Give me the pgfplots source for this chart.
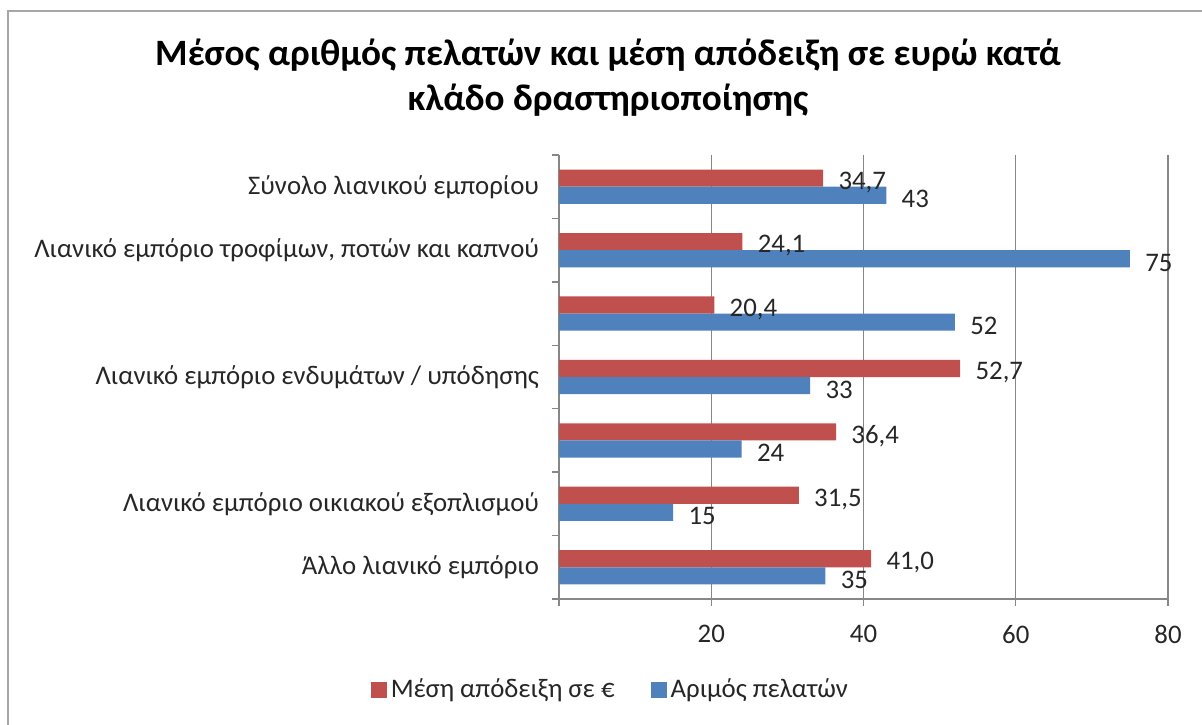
\documentclass[border=0pt]{standalone}
\usepackage{fontspec}
\setmainfont{Carlito}
\usepackage{pgfplots}
\pgfplotsset{compat=1.18}
\definecolor{barred}{HTML}{C0504D}
\definecolor{barblue}{HTML}{4F81BD}
\definecolor{axgray}{HTML}{878787}
\definecolor{framegray}{HTML}{A6A6A6}
\begin{document}
\begin{tikzpicture}
\begin{scope}[x=0.5pt,y=-0.5pt]
\useasboundingbox (0,0) rectangle (1202,724);
\draw[framegray, line width=1pt] (7.5,740) -- (7.5,11) -- (1220,11);
\node[font=\fontsize{18.6}{22.5}\selectfont\bfseries, align=center] at (608,78)
  {Μέσος αριθμός πελατών και μέση απόδειξη σε ευρώ κατά\\κλάδο δραστηριοποίησης};
\end{scope}
\begin{axis}[
  xbar,
  at={(279.5pt,-299.5pt)}, anchor=south west,
  scale only axis, width=304.5pt, height=222pt,
  xmin=0, xmax=80, ymin=-0.5, ymax=6.5,
  xtick={0,20,40,60,80}, xticklabels={,20,40,60,80},
  ytick={-0.5,0.5,...,6.5}, yticklabels={},
  extra y ticks={0,1,2,3,4,5,6},
  extra y tick labels={Άλλο λιανικό εμπόριο, Λιανικό εμπόριο οικιακού εξοπλισμού, {}, Λιανικό εμπόριο ενδυμάτων / υπόδησης, {}, {Λιανικό εμπόριο τροφίμων, ποτών και καπνού}, Σύνολο λιανικού εμπορίου},
  extra y tick style={tick style={draw=none}, yticklabel style={xshift=-3pt}},
  axis x line*=bottom, axis y line*=left,
  axis line style={axgray, line width=0.7pt, -},
  tick align=outside,
  major tick length=3.5pt,
  tick style={axgray, line width=0.7pt},
  xmajorgrids, grid style={axgray, line width=0.7pt},
  ticklabel style={font=\fontsize{13.4}{16}\selectfont, text=black!85},
  xticklabel style={yshift=-6pt},
  /pgf/number format/assume math mode=true,
  legend style={at={(0.086,-0.205)}, anchor=center, draw=none, fill=none,
    font=\fontsize{13.4}{16}\selectfont, text=black!85,
    nodes={inner sep=2pt},
    /tikz/every even column/.append style={column sep=16pt}},
  legend columns=2,
  legend image code/.code={\fill[#1] (0pt,-4pt) rectangle (8pt,4pt);},
  nodes near coords={\pgfplotspointmeta},
  point meta=explicit symbolic,
  every node near coord/.append style={font=\fontsize{13.4}{16}\selectfont, text=black!85, anchor=west, inner sep=2pt, xshift=5.5pt, yshift=-2pt},
]
\addplot[xbar, fill=barred, draw=none, bar width=0.27, bar shift=0.135]
  table[x=v, y=y, meta=l] {
y v l
6 34.7 34,7
5 24.1 24,1
4 20.4 20,4
3 52.7 52,7
2 36.4 36,4
1 31.5 31,5
0 41.0 41,0
};
\addlegendentry{Μέση απόδειξη σε €}
\addplot[xbar, fill=barblue, draw=none, bar width=0.27, bar shift=-0.135]
  table[x=v, y=y, meta=l] {
y v l
6 43 43
5 75 75
4 52 52
3 33 33
2 24 24
1 15 15
0 35 35
};
\addlegendentry{Αριμός πελατών}
\end{axis}
\end{tikzpicture}
\end{document}
